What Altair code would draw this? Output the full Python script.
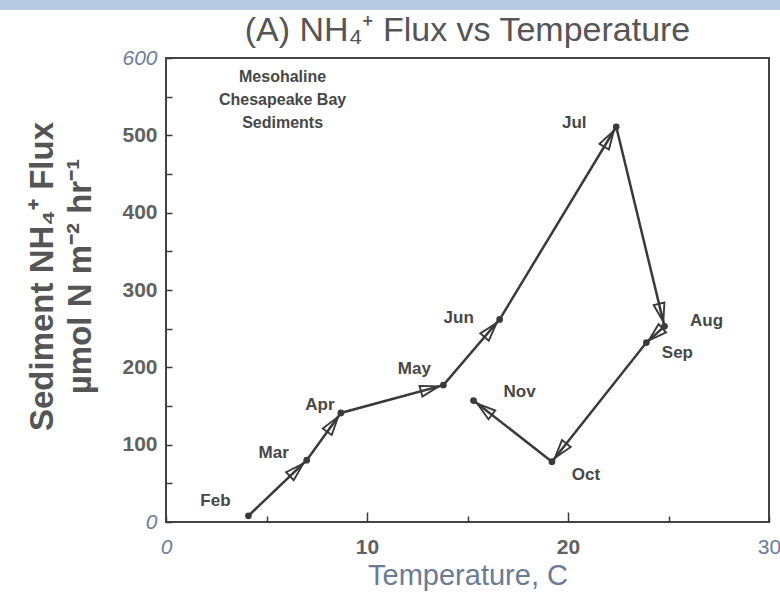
import math
import altair as alt
import pandas as pd

# ---- data ----
months = ["Feb", "Mar", "Apr", "May", "Jun", "Jul", "Aug", "Sep", "Oct", "Nov"]
temperature = [4.1, 7.0, 8.7, 13.8, 16.6, 22.4, 24.8, 23.9, 19.2, 15.3]
nh4_flux = [8, 80, 141, 177, 262, 511, 253, 232, 78, 157]

x_tick_labels = [0, 10, 20, 30]
y_tick_labels = [0, 100, 200, 300, 400, 500, 600]
x_minor_ticks = [0, 5, 10, 15, 20, 25, 30]
y_minor_ticks = [0, 50, 100, 150, 200, 250, 300, 350, 400, 450, 500, 550, 600]
annotation_text = ["Mesohaline", "Chesapeake Bay", "Sediments"]

# ---- layout ----
W, H = 603, 464
PAD_L, PAD_T = 166, 58
PAD_R = 780 - PAD_L - W
PAD_B = 596 - PAD_T - H
X_MAX, Y_MAX = 30, 600
sx, sy = W / X_MAX, H / Y_MAX

# label offsets in pixels (dx right, dy down)
label_offsets = {
    "Feb": (-33, -15), "Mar": (-33, -7), "Apr": (-21, -8), "May": (-29, -16),
    "Jun": (-41, -1), "Jul": (-42, -4), "Aug": (42, -5), "Sep": (31, 10),
    "Oct": (34, 13), "Nov": (46, -9),
}

df = pd.DataFrame({"month": months, "temp": temperature, "flux": nh4_flux,
                   "order": list(range(len(months)))})
df["lx"] = [t + label_offsets[m][0] / sx for m, t in zip(months, temperature)]
df["ly"] = [f - label_offsets[m][1] / sy for m, f in zip(months, nh4_flux)]

# arrowheads near the end of each segment
arrows = []
for i in range(len(months) - 1):
    x0, y0 = temperature[i], nh4_flux[i]
    x1, y1 = temperature[i + 1], nh4_flux[i + 1]
    dxp, dyp = (x1 - x0) * sx, (y1 - y0) * sy
    L = math.hypot(dxp, dyp)
    gap = min(14.0, L * 0.5)
    arrows.append({
        "temp": x1 - dxp / L * gap / sx,
        "flux": y1 - dyp / L * gap / sy,
        "angle": math.degrees(math.atan2(dxp, dyp)) % 360,
    })
arrow_df = pd.DataFrame(arrows)

annot_df = pd.DataFrame({"temp": [5.8], "flux": [586],
                         "text": [annotation_text]})

FONT = "Liberation Sans"
DARK = "#3a3a3a"
BLUE = "#6a7d99"
GRAY = "#616161"

xscale = alt.Scale(domain=[0, X_MAX], nice=False, zero=True)
yscale = alt.Scale(domain=[0, Y_MAX], nice=False, zero=True)

x_axis = alt.Axis(
    orient="bottom",
    values=x_tick_labels, ticks=False, domain=False, grid=False,
    labelFont=FONT, labelFontSize=21, labelPadding=14, labelFlush=False,
    labelColor={"condition": {"test": "datum.value == 0 || datum.value == 30", "value": BLUE}, "value": GRAY},
    labelFontStyle={"condition": {"test": "datum.value == 0", "value": "italic"}, "value": "normal"},
    labelFontWeight={"condition": {"test": "datum.value == 10 || datum.value == 20", "value": "bold"}, "value": "normal"},
    title="Temperature, C", titleFont=FONT, titleFontSize=29, titleFontWeight="normal",
    titleColor="#6b7b93", titlePadding=4,
)
y_axis = alt.Axis(
    orient="left",
    values=y_tick_labels, ticks=False, domain=False, grid=False,
    labelFont=FONT, labelFontSize=21, labelPadding=9, labelFlush=False,
    labelColor={"condition": {"test": "datum.value == 0 || datum.value == 600", "value": BLUE}, "value": GRAY},
    labelFontStyle={"condition": {"test": "datum.value == 0 || datum.value == 600", "value": "italic"}, "value": "normal"},
    labelFontWeight={"condition": {"test": "datum.value == 0 || datum.value == 600", "value": "normal"}, "value": "bold"},
    title=["Sediment NH₄⁺ Flux", "µmol N m⁻² hr⁻¹"], titleFont=FONT, titleFontSize=33,
    titleFontWeight="bold", titleColor="#555555", titleLineHeight=38, titlePadding=24,
    titleY=218,
)

# inward tick axes
x_tick_axis = alt.Axis(
    orient="top", offset=-H, values=x_minor_ticks, labels=False, domain=False,
    grid=False, title=None, tickColor=DARK, tickWidth=1.5,
    tickSize={"condition": {"test": "datum.value == 10 || datum.value == 20", "value": 10}, "value": 6},
)
y_tick_axis = alt.Axis(
    orient="right", offset=-W, values=y_minor_ticks, labels=False, domain=False,
    grid=False, title=None, tickColor=DARK, tickWidth=1.5, tickSize=6,
)

base = alt.Chart(df)

path = base.mark_line(color=DARK, strokeWidth=2.5).encode(
    x=alt.X("temp:Q", scale=xscale, axis=x_axis),
    y=alt.Y("flux:Q", scale=yscale, axis=y_axis),
    order="order:Q",
)

tick_layer = base.mark_point(opacity=0).encode(
    x=alt.X("temp:Q", scale=xscale, axis=x_tick_axis),
    y=alt.Y("flux:Q", scale=yscale, axis=y_tick_axis),
)

points = base.mark_circle(color=DARK, size=45, opacity=1).encode(
    x=alt.X("temp:Q", axis=None), y=alt.Y("flux:Q", axis=None),
)

heads = alt.Chart(arrow_df).mark_point(
    shape="M0,-1L0.6,1L-0.6,1Z", filled=False, stroke=DARK, strokeWidth=1.9,
    size=340, opacity=1,
).encode(
    x=alt.X("temp:Q", axis=None), y=alt.Y("flux:Q", axis=None),
    angle=alt.Angle("angle:Q", scale=None),
)

labels = base.mark_text(font=FONT, fontSize=17, fontWeight="bold", color="#474747").encode(
    x=alt.X("lx:Q", axis=None), y=alt.Y("ly:Q", axis=None), text="month:N",
)

annot = alt.Chart(annot_df).mark_text(
    font=FONT, fontSize=16, fontWeight="bold", color="#474747", lineHeight=23,
    baseline="top",
).encode(x=alt.X("temp:Q", axis=None), y=alt.Y("flux:Q", axis=None), text="text")

band = alt.Chart(alt.Data(values=[{}])).mark_rect(color="#b8cbe5").encode(
    x=alt.value(-PAD_L), x2=alt.value(W + PAD_R), y=alt.value(-PAD_T), y2=alt.value(-PAD_T + 10),
)

chart = alt.layer(path, tick_layer, points, heads, labels, annot, band).resolve_axis(
    x="independent", y="independent"
).properties(
    width=W, height=H,
    autosize=alt.AutoSizeParams(type="none"),
    padding={"left": PAD_L, "top": PAD_T, "right": PAD_R, "bottom": PAD_B},
    background="white",
    title=alt.TitleParams(
        "(A) NH₄⁺ Flux vs Temperature", font=FONT, fontSize=34, fontWeight="normal",
        color="#555555", anchor="middle", offset=-82, frame="group", baseline="bottom",
    ),
).configure_view(stroke="#444444", strokeWidth=2)

chart.save("out.html", embed_options={"renderer": "svg", "actions": False})
